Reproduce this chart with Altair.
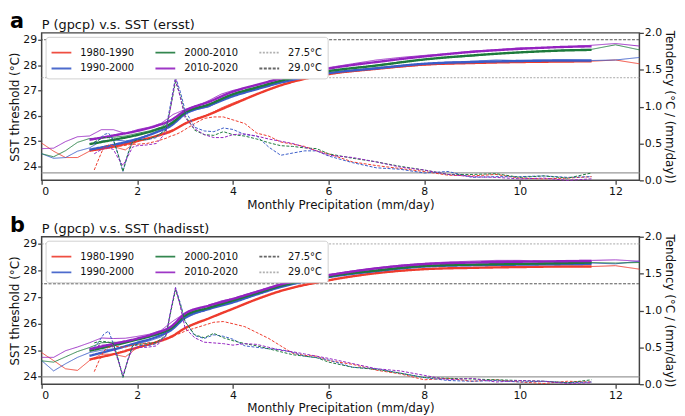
import altair as alt
import pandas as pd

PERIODS = ["1980-1990", "1990-2000", "2000-2010", "2010-2020"]
THRESH_NAMES = ["27.5°C", "29.0°C"]
THRESH_VALUES = [27.5, 29.0]
TEND_LINE = [0.1]

# x grids
RAW_X = [0, 0.25, 0.5, 0.75, 1, 1.25, 1.5, 1.75, 2, 2.25, 2.5, 2.75, 3, 3.25, 3.5, 3.75, 4,
         4.5, 5, 5.5, 6, 6.5, 7, 7.5, 8, 8.5, 9, 9.5, 10, 10.5, 11, 11.5, 12, 12.5]
FIT_X = [1, 1.5, 2, 2.4, 2.7, 3, 3.5, 4, 4.5, 5, 6, 7, 8, 9, 10, 11, 11.5]
TEND_X = [1.1, 1.2, 1.3, 1.4, 1.5, 1.6, 1.7, 1.8, 1.9, 2.0, 2.2, 2.4, 2.6, 2.7, 2.8, 2.9, 3.0,
          3.2, 3.4, 3.6, 3.8, 4.0, 4.25, 4.5, 4.75, 5.0, 5.25, 5.5, 5.75, 6.0,
          6.5, 7.0, 7.5, 8.0, 8.5, 9.0, 9.5, 10.0, 10.5, 11.0, 11.5]

# ---------------- panel a (ersst) ----------------
A_RAW = {
    "1980-1990": [24.92, 24.6, 24.35, 24.35, 24.6, 24.75, 24.78, 24.65, 25.0, 25.1, 25.3, 25.45, 25.7, 25.9, 26.05, 26.3, 26.5,
                  26.85, 27.2, 27.45, 27.65, 27.75, 27.85, 27.92, 28.0, 28.05, 28.08, 28.1, 28.12, 28.13, 28.14, 28.15, 28.2, 28.05],
    "1990-2000": [24.5, 24.32, 24.35, 24.6, 24.73, 25.0, 25.05, 25.0, 25.1, 25.25, 25.45, 25.8, 26.1, 26.25, 26.35, 26.6, 26.8,
                  27.05, 27.3, 27.5, 27.68, 27.78, 27.9, 27.98, 28.05, 28.12, 28.15, 28.2, 28.18, 28.2, 28.2, 28.18, 28.2, 28.3],
    "2000-2010": [24.5, 24.38, 24.62, 24.95, 25.1, 25.12, 25.15, 25.2, 25.3, 25.4, 25.55, 25.9, 26.15, 26.3, 26.45, 26.65, 26.85,
                  27.1, 27.4, 27.6, 27.78, 27.88, 28.0, 28.12, 28.22, 28.3, 28.35, 28.45, 28.5, 28.55, 28.6, 28.62, 28.8, 28.6],
    "2010-2020": [24.7, 24.72, 24.98, 25.17, 25.2, 25.45, 25.45, 25.3, 25.45, 25.55, 25.7, 26.05, 26.25, 26.4, 26.6, 26.85, 27.0,
                  27.2, 27.5, 27.75, 27.9, 28.05, 28.2, 28.3, 28.38, 28.45, 28.55, 28.6, 28.68, 28.68, 28.72, 28.78, 28.85, 28.75],
}
A_FIT = {
    "1980-1990": [24.62, 24.78, 25.0, 25.2, 25.38, 25.69, 26.05, 26.45, 26.85, 27.2, 27.64, 27.85, 28.02, 28.08, 28.12, 28.14, 28.15],
    "1990-2000": [24.66, 24.85, 25.08, 25.35, 25.6, 26.07, 26.4, 26.77, 27.05, 27.31, 27.68, 27.87, 28.05, 28.12, 28.16, 28.18, 28.18],
    "2000-2010": [24.88, 25.05, 25.24, 25.45, 25.68, 26.13, 26.45, 26.85, 27.12, 27.38, 27.76, 27.98, 28.22, 28.38, 28.5, 28.58, 28.6],
    "2010-2020": [25.05, 25.22, 25.40, 25.6, 25.82, 26.2, 26.55, 26.95, 27.22, 27.47, 27.86, 28.12, 28.34, 28.52, 28.64, 28.72, 28.74],
}
A_TEND = {
    "1980-1990": [0.14, 0.30, 0.45, 0.48, 0.47, 0.46, 0.47, 0.48, 0.49, 0.49, 0.50, 0.53, 0.57, 0.60, 0.62, 0.65, 0.69,
                  0.77, 0.84, 0.86, 0.86, 0.82, 0.77, 0.64, 0.60, 0.52, 0.49, 0.46, 0.40, 0.36,
                  0.25, 0.20, 0.16, 0.12, 0.07, 0.06, 0.08, 0.03, 0.02, 0.03, 0.05],
    "1990-2000": [0.50, 0.55, 0.62, 0.64, 0.55, 0.35, 0.12, 0.35, 0.55, 0.56, 0.55, 0.58, 0.70, 1.05, 1.40, 1.20, 0.95,
                  0.72, 0.67, 0.66, 0.71, 0.69, 0.62, 0.60, 0.45, 0.34, 0.37, 0.40, 0.40, 0.33,
                  0.24, 0.17, 0.15, 0.10, 0.12, 0.04, 0.05, 0.05, 0.06, 0.04, 0.05],
    "2000-2010": [0.52, 0.55, 0.58, 0.58, 0.55, 0.35, 0.12, 0.35, 0.52, 0.55, 0.55, 0.60, 0.68, 1.00, 1.34, 1.15, 0.88,
                  0.68, 0.62, 0.61, 0.66, 0.62, 0.60, 0.56, 0.51, 0.47, 0.46, 0.44, 0.43, 0.36,
                  0.30, 0.25, 0.19, 0.14, 0.08, 0.08, 0.09, 0.04, 0.06, 0.03, 0.10],
    "2010-2020": [0.36, 0.40, 0.43, 0.44, 0.42, 0.30, 0.20, 0.32, 0.45, 0.47, 0.48, 0.50, 0.65, 1.00, 1.38, 1.12, 0.85,
                  0.70, 0.62, 0.58, 0.58, 0.62, 0.63, 0.60, 0.56, 0.53, 0.50, 0.45, 0.40, 0.34,
                  0.31, 0.25, 0.18, 0.14, 0.08, 0.05, 0.04, 0.02, 0.03, 0.00, 0.02],
}

# ---------------- panel b (hadisst) ----------------
B_RAW = {
    "1980-1990": [24.91, 24.61, 24.30, 24.24, 24.61, 24.85, 24.85, 24.75, 25.1, 25.2, 25.4, 25.5, 25.85, 26.05, 26.2, 26.4, 26.55,
                  26.92, 27.23, 27.45, 27.63, 27.78, 27.9, 27.98, 28.05, 28.08, 28.1, 28.12, 28.13, 28.14, 28.15, 28.15, 28.18, 28.05],
    "1990-2000": [24.61, 24.22, 24.49, 24.73, 24.91, 25.0, 25.05, 25.15, 25.25, 25.35, 25.5, 25.85, 26.2, 26.4, 26.55, 26.7, 26.82,
                  27.1, 27.38, 27.58, 27.75, 27.88, 27.98, 28.08, 28.15, 28.18, 28.2, 28.22, 28.22, 28.24, 28.25, 28.28, 28.25, 28.35],
    "2000-2010": [24.6, 24.55, 24.75, 24.95, 25.1, 25.28, 25.3, 25.28, 25.42, 25.5, 25.62, 25.95, 26.3, 26.45, 26.6, 26.75, 26.88,
                  27.15, 27.42, 27.6, 27.78, 27.9, 28.0, 28.1, 28.17, 28.2, 28.22, 28.25, 28.25, 28.28, 28.3, 28.3, 28.28, 28.3],
    "2010-2020": [24.73, 24.73, 24.98, 25.12, 25.28, 25.46, 25.44, 25.45, 25.52, 25.6, 25.75, 26.1, 26.4, 26.55, 26.7, 26.85, 26.95,
                  27.22, 27.5, 27.68, 27.85, 27.98, 28.1, 28.2, 28.27, 28.32, 28.35, 28.38, 28.38, 28.35, 28.38, 28.38, 28.4, 28.35],
}
B_FIT = {
    "1980-1990": [24.65, 24.85, 25.1, 25.3, 25.5, 25.83, 26.2, 26.56, 26.92, 27.23, 27.63, 27.9, 28.05, 28.1, 28.13, 28.15, 28.15],
    "1990-2000": [24.79, 25.02, 25.28, 25.5, 25.75, 26.22, 26.55, 26.8, 27.1, 27.38, 27.75, 27.98, 28.15, 28.2, 28.22, 28.24, 28.25],
    "2000-2010": [24.98, 25.18, 25.4, 25.6, 25.82, 26.3, 26.6, 26.87, 27.15, 27.42, 27.78, 28.0, 28.17, 28.22, 28.25, 28.28, 28.3],
    "2010-2020": [25.04, 25.24, 25.44, 25.65, 25.88, 26.38, 26.68, 26.93, 27.2, 27.47, 27.82, 28.08, 28.24, 28.3, 28.33, 28.35, 28.36],
}
B_TEND = {
    "1980-1990": [0.17, 0.32, 0.45, 0.50, 0.52, 0.51, 0.50, 0.51, 0.53, 0.54, 0.56, 0.57, 0.62, 0.65, 0.67, 0.69, 0.72,
                  0.76, 0.80, 0.84, 0.85, 0.82, 0.78, 0.70, 0.62, 0.52, 0.42, 0.39, 0.38, 0.32,
                  0.27, 0.19, 0.14, 0.06, 0.08, 0.04, 0.06, 0.03, 0.01, 0.04, 0.03],
    "1990-2000": [0.50, 0.58, 0.68, 0.72, 0.55, 0.35, 0.10, 0.33, 0.52, 0.53, 0.52, 0.55, 0.66, 1.00, 1.31, 1.10, 0.85,
                  0.66, 0.62, 0.67, 0.65, 0.61, 0.52, 0.50, 0.48, 0.47, 0.43, 0.38, 0.36, 0.33,
                  0.23, 0.21, 0.15, 0.09, 0.05, 0.04, 0.05, 0.03, 0.04, 0.02, 0.03],
    "2000-2010": [0.56, 0.58, 0.58, 0.57, 0.55, 0.33, 0.09, 0.32, 0.52, 0.54, 0.55, 0.57, 0.66, 0.98, 1.28, 1.08, 0.85,
                  0.67, 0.63, 0.69, 0.63, 0.59, 0.55, 0.52, 0.48, 0.44, 0.40, 0.38, 0.36, 0.30,
                  0.23, 0.20, 0.15, 0.09, 0.08, 0.07, 0.06, 0.05, 0.04, 0.02, 0.06],
    "2010-2020": [0.47, 0.53, 0.53, 0.53, 0.50, 0.32, 0.12, 0.32, 0.48, 0.50, 0.50, 0.52, 0.65, 1.00, 1.31, 1.05, 0.76,
                  0.63, 0.57, 0.56, 0.55, 0.53, 0.55, 0.54, 0.50, 0.46, 0.44, 0.41, 0.38, 0.35,
                  0.28, 0.21, 0.18, 0.12, 0.06, 0.08, 0.03, 0.05, 0.04, 0.01, 0.02],
}

COLORS = {"1980-1990": "#ee3b2d", "1990-2000": "#3a5cc8", "2000-2010": "#1d7a3c", "2010-2020": "#9422c0"}
LEGEND_ORDER = ["1980-1990", "1990-2000", "2000-2010", "2010-2020", "27.5°C", "29.0°C"]
GREY_LIGHT = "#a8a8a8"
GREY_DARK = "#555555"


def long_df(xs, d, key):
    rows = []
    for s in PERIODS:
        for x, v in zip(xs, d[s]):
            rows.append({"x": x, key: v, "series": s})
    return pd.DataFrame(rows)


def panel(raw, fit, tend, title, letter, ydomain, thr_colors, thr_dash, letter_y):
    cmap = dict(COLORS)
    cmap["27.5°C"], cmap["29.0°C"] = thr_colors
    dmap = {s: [1, 0] for s in PERIODS}
    dmap["27.5°C"], dmap["29.0°C"] = thr_dash
    color = alt.Color("series:N", title=None,
                      scale=alt.Scale(domain=LEGEND_ORDER, range=[cmap[k] for k in LEGEND_ORDER]))
    dash = alt.StrokeDash("series:N", title=None,
                          scale=alt.Scale(domain=LEGEND_ORDER, range=[dmap[k] for k in LEGEND_ORDER]))
    xenc = alt.X("x:Q", scale=alt.Scale(domain=[0, 12.5], nice=False, zero=False),
                 axis=alt.Axis(values=[0, 2, 4, 6, 8, 10, 12], format="d",
                               title="Monthly Precipitation (mm/day)", titlePadding=3))
    lscale = alt.Scale(domain=ydomain, nice=False, zero=False)
    laxis = alt.Axis(values=[24, 25, 26, 27, 28, 29], format="d", title="SST threshold (°C)", orient="left")
    rscale = alt.Scale(domain=[0, 2], nice=False, zero=False)
    raxis = alt.Axis(values=[0, 0.5, 1, 1.5, 2], format=".1f", title="Tendency (°C / (mm/day))",
                     orient="right")

    thr_df = pd.DataFrame({"series": THRESH_NAMES, "v": THRESH_VALUES})
    thr = alt.Chart(thr_df).mark_rule(strokeWidth=1).encode(
        y=alt.Y("v:Q", scale=lscale, axis=laxis), color=color, strokeDash=dash)
    raw_l = alt.Chart(long_df(RAW_X, raw, "v")).mark_line(strokeWidth=1, opacity=0.9).encode(
        x=xenc, y=alt.Y("v:Q", scale=lscale, axis=laxis), color=color, strokeDash=dash)
    fit_l = alt.Chart(long_df(FIT_X, fit, "v")).mark_line(strokeWidth=2.4, interpolate="monotone").encode(
        x=xenc, y=alt.Y("v:Q", scale=lscale, axis=laxis), color=color, strokeDash=dash)
    labels = pd.DataFrame({"t": [letter]})
    let = alt.Chart(labels).mark_text(
        fontSize=21, fontWeight="bold", align="left", baseline="alphabetic", color="black").encode(
        text="t:N", x=alt.value(-32), y=alt.value(letter_y))
    ttl = alt.Chart(pd.DataFrame({"t": [title]})).mark_text(
        fontSize=13, align="left", baseline="alphabetic", color="#111111").encode(
        text="t:N", x=alt.value(0), y=alt.value(-4))
    left = alt.layer(thr, raw_l, fit_l, let, ttl)

    tend_l = alt.Chart(long_df(TEND_X, tend, "t")).mark_line(strokeWidth=1, strokeDash=[3, 1.6]).encode(
        x=xenc, y=alt.Y("t:Q", scale=rscale, axis=raxis), color=color)
    tline = alt.Chart(pd.DataFrame({"t": TEND_LINE})).mark_rule(color="#999999", strokeWidth=1.2).encode(
        y=alt.Y("t:Q", scale=rscale, axis=raxis))
    right = alt.layer(tline, tend_l)

    return alt.layer(left, right).resolve_scale(y="independent").properties(width=604, height=149)


pa = panel(A_RAW, A_FIT, A_TEND, "P (gpcp) v.s. SST (ersst)", "a", [23.45, 29.27],
           (GREY_LIGHT, GREY_DARK), ([2, 1.5], [3, 1.5]), -5)
pb = panel(B_RAW, B_FIT, B_TEND, "P (gpcp) v.s. SST (hadisst)", "b", [23.72, 29.27],
           (GREY_DARK, GREY_LIGHT), ([3, 1.5], [2, 1.5]), -5)

chart = alt.vconcat(pa, pb, spacing=3).resolve_scale(
    color="independent", strokeDash="independent", x="independent", y="independent"
).properties(padding=0).configure(font="DejaVu Sans").configure_view(
    stroke="#444444", strokeWidth=1.5
).configure_axis(
    grid=False, domain=False, tickColor="#444444", tickWidth=1.3, tickSize=4,
    labelFontSize=11, titleFontSize=12, labelColor="#111111", titleColor="#111111",
    titleFontWeight="normal", labelPadding=1, titlePadding=1
).configure_legend(
    orient="top-left", offset=4, columns=3, symbolType="stroke", symbolSize=400,
    symbolStrokeWidth=1.8, labelFontSize=10, fillColor="white", strokeColor="#d0d0d0",
    padding=5, cornerRadius=3, columnPadding=17, rowPadding=-6, labelOffset=8, labelColor="#111111"
)

chart.save("out.html", embed_options={"renderer": "svg", "actions": False})
